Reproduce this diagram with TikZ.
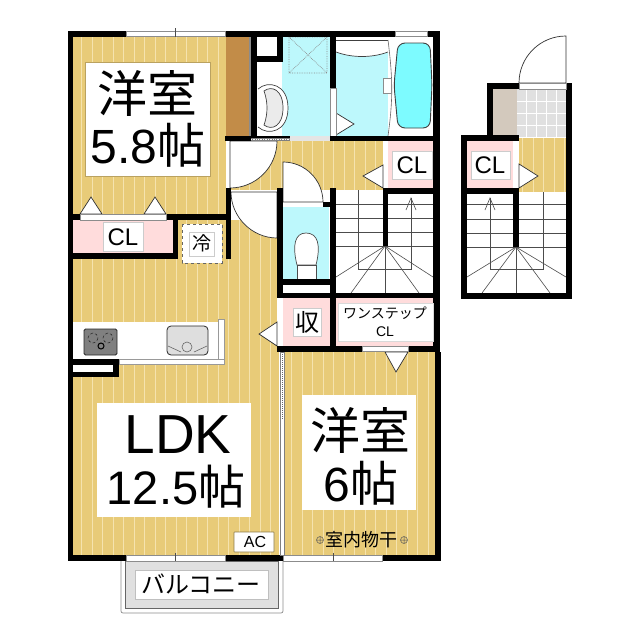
\documentclass[tikz,border=0pt]{standalone}
\usepackage{fontspec}
\setmainfont{Liberation Sans}
\newfontfamily\jpfont{Noto Sans CJK JP}
\definecolor{colorFloor}{HTML}{E8CB78}
\definecolor{colorStripe}{HTML}{F5E3AE}
\definecolor{colorPink}{HTML}{FFDCDC}
\definecolor{colorWet}{HTML}{BDF8FC}
\definecolor{colorTub}{HTML}{7DFBFF}
\definecolor{colorWood}{HTML}{C28C48}
\definecolor{colorBeige}{HTML}{D3C9BD}
\definecolor{colorTile}{HTML}{E0E0E0}
\usetikzlibrary{positioning}
\tikzset{
  wallfill/.style={fill=black},
  doorleaf/.style={fill=white, draw=black!80, line width=0.7pt},
  opening/.style={fill=white, draw=black!45, line width=0.5pt},
  labelbox/.style={fill=white, draw=black!20, line width=0.6pt},
  stepline/.style={draw=black!70, line width=0.6pt},
}
\newcommand{\fontpx}[1]{\fontsize{#1}{#1}\selectfont}
\newcommand{\floorarea}[4]{%
  \fill[colorFloor] (#1,#2) rectangle (#3,#4);
  \begin{scope}
    \clip (#1,#2) rectangle (#3,#4);
    \foreach \k in {0,...,50} \draw[colorStripe, line width=1pt] ({71+10.5*\k},#2) -- ({71+10.5*\k},#4);
  \end{scope}}
\newcommand{\wallbox}[4]{\fill[wallfill] (#1,#2) rectangle (#3,#4);}

\begin{document}
\begin{tikzpicture}[x=1pt, y=-1pt]
\useasboundingbox (0,0) rectangle (640,640);
\fill[white] (0,0) rectangle (640,640);

% balcony
\draw[black!45, line width=0.7pt, rounded corners=2pt] (121,561) -- (121,613) -- (283,613) -- (283,561);
\draw[black!60, fill=colorTile, line width=0.6pt] (125,561) rectangle (278,608);

% floors
\floorarea{73}{37}{226}{215}
\floorarea{73}{259}{279}{555}
\floorarea{178}{220}{279}{259}
\floorarea{231}{141}{383}{190}
\floorarea{285}{352}{435}{555}
\floorarea{519}{138}{566}{192}

% wet rooms and closets
\fill[colorWood] (226,37) rectangle (249,136);
\fill[black!45] (249,37) rectangle (251,136);
\fill[white] (257,37) rectangle (277,56);
\fill[white] (257,62) rectangle (282,136);
\fill[colorWet] (282,37) rectangle (330,136);
\draw[black!45, densely dotted, line width=0.7pt] (289,37) rectangle (327,73) (289,37) -- (327,73) (327,37) -- (289,73);
\fill[colorWet] (336,40) rectangle (388,136);
\fill[white] (388,37) rectangle (433,136);
\fill[colorPink] (73,220) rectangle (173,253);
\fill[colorPink] (388,141) rectangle (433,188);
\fill[white] (383,141) rectangle (388,188);
\fill[colorPink] (283,298) rectangle (330,346);
\fill[white] (277,298) rectangle (283,346);
\fill[colorPink] (336,298) rectangle (434,346);
\fill[colorWet] (283,207) rectangle (329,279);
\fill[white] (283,285) rectangle (329,293);
\fill[colorPink] (467,141) rectangle (513,188);
\fill[white] (513,141) rectangle (519,188);
\fill[colorBeige] (493,89) rectangle (517,135);
\fill[colorTile] (517,89) rectangle (566,137);
\foreach \k in {1,...,4} \draw[white, line width=0.8pt] ({517+9.8*\k},89) -- ({517+9.8*\k},137);
\foreach \k in {1,...,3} \draw[white, line width=0.8pt] (517,{89+12*\k}) -- (566,{89+12*\k});

% wash basin
\draw[black!75, fill=white, line width=0.7pt] (258,89) .. controls (268,80) and (288,84) .. (288,108) .. controls (288,132) and (268,136) .. (258,127);
\draw[black!75, fill=black!8, line width=0.7pt] (264,91) .. controls (272,85) and (283,90) .. (283,108) .. controls (283,126) and (272,131) .. (264,125) .. controls (268,114) and (268,102) .. (264,91) -- cycle;

% bath
\fill[white] (336,40) rectangle (388,53);
\draw[black!75, line width=0.6pt] (336,40) -- (388,40);
\draw[black!75, fill=white, line width=0.7pt] (336,52) .. controls (352,58) and (372,58) .. (388,52);
\draw[black!60, line width=0.6pt] (388,40) .. controls (393,80) and (393,100) .. (388,136);
\draw[black!75, fill=colorTub, line width=0.9pt, rounded corners=7pt] (398,43) -- (430,43) -- (432,85) -- (430,128) -- (398,128) -- (394,85) -- cycle;
\draw[opening] (383,78) rectangle (391,93);
\draw[doorleaf] (336,113) -- (354,124) -- (336,135) -- cycle;
\draw[opening] (330,88) rectangle (336,136);

% toilet
\draw[black!70, fill=white, line width=0.7pt] (297,265) .. controls (292,245) and (295,233) .. (306,233) .. controls (318,233) and (321,245) .. (316,265) -- cycle;
\draw[black!70, fill=white, line width=0.7pt] (297,265) rectangle (316,279);

% kitchen
\fill[white] (73,322) rectangle (218,359);
\draw[black!40, fill=white, line width=0.6pt] (218,319) rectangle (224,364);
\draw[black!40, fill=white, line width=0.6pt] (119,359) rectangle (224,364);
\draw[black!85, fill=black!50, rounded corners=1.5pt, line width=0.8pt] (84,329) rectangle (117,355);
\draw[black!85, densely dashed, line width=0.5pt] (93,338) circle (5) (108,338) circle (5);
\draw[black, line width=1pt] (101,346) circle (3);
\draw[black!85, fill=black!13, rounded corners=4pt, line width=0.8pt] (167,326) rectangle (208,355);
\draw[black!60, line width=0.6pt] (168,346) -- (181,352) (207,346) -- (194,352) (187,347) circle (5);

% doors
\fill[white] (226,141) rectangle (230,188);
\draw[doorleaf] (230,141) -- (277,141) .. controls (277,167) and (256,188) .. (230,188) -- cycle;
\draw[doorleaf] (231,192) .. controls (231,217) and (252,238) .. (277,238) -- (277,192) -- cycle;
\draw[doorleaf] (283,162) .. controls (305,162) and (323,180) .. (323,202) -- (283,202) -- cycle;
\draw[doorleaf] (80,214) -- (91,197) -- (102,214) -- cycle;
\draw[doorleaf] (144,214) -- (155,197) -- (166,214) -- cycle;
\draw[doorleaf] (383,165) -- (363,176) -- (383,188) -- cycle;
\draw[doorleaf] (277,322) -- (259,334) -- (277,346) -- cycle;
\draw[doorleaf] (385,352) -- (396,372) -- (408,352) -- cycle;
\draw[doorleaf] (519,164) -- (538,176) -- (519,188) -- cycle;
\draw[doorleaf] (566,36) .. controls (540,36) and (519,57) .. (519,83) -- (566,83) -- cycle;

% stairs
\foreach \y in {204,218,232,246} \draw[stepline] (336,\y) -- (433,\y);
\draw[stepline] (358,190) -- (358,269) -- (411,269) -- (411,198);
\draw[stepline] (406,210) -- (411,198) -- (416,210);
\foreach \px/\py in {336/277,351/293,385/293,419/293,433/277} \draw[stepline] (385,246) -- (\px,\py);
\foreach \y in {204,219,233,247} \draw[stepline] (467,\y) -- (566,\y);
\draw[stepline] (543,192) -- (543,269) -- (490,269) -- (490,198);
\draw[stepline] (485,210) -- (490,198) -- (495,210);
\foreach \px/\py in {467/277,482/293,516/293,550/293,566/277} \draw[stepline] (516,247) -- (\px,\py);

% walls
\wallbox{68}{31}{440}{37}
\wallbox{68}{31}{73}{561}
\wallbox{433}{31}{440}{352}
\wallbox{435}{352}{441}{561}
\wallbox{68}{555}{441}{561}
\wallbox{68}{214}{226}{220}
\wallbox{173}{214}{178}{259}
\wallbox{68}{253}{178}{259}
\wallbox{226}{188}{231}{259}
\wallbox{225}{136}{290}{141}
\wallbox{330}{136}{440}{141}
\wallbox{251}{37}{257}{136}
\wallbox{257}{56}{283}{62}
\wallbox{277}{37}{283}{62}
\wallbox{330}{37}{336}{88}
\wallbox{277}{188}{283}{298}
\wallbox{323}{202}{336}{207}
\wallbox{330}{188}{336}{298}
\wallbox{277}{279}{336}{285}
\wallbox{277}{293}{440}{298}
\wallbox{383}{188}{440}{194}
\wallbox{383}{188}{388}{246}
\wallbox{330}{298}{336}{346}
\wallbox{277}{346}{440}{352}
\wallbox{73}{359}{119}{377}
\fill[white] (73,365) rectangle (113,372);
\wallbox{487}{83}{519}{89}
\wallbox{487}{83}{493}{135}
\wallbox{566}{83}{572}{299}
\wallbox{461}{135}{519}{141}
\wallbox{461}{135}{467}{299}
\wallbox{461}{188}{519}{194}
\wallbox{513}{188}{519}{247}
\wallbox{461}{293}{572}{299}
\fill[black!50] (251,138) rectangle (290,141);
\draw[white, densely dotted, line width=0.7pt] (251,139.5) -- (290,139.5);
\fill[black!10] (290,136) rectangle (330,141);

% windows and openings
\draw[opening] (126,31) rectangle (225,36);
\draw[black!70, line width=0.5pt] (175,28) -- (175,37);
\draw[opening] (395,31) rectangle (427,36);
\draw[opening] (80,214) rectangle (166,220);
\draw[opening] (126,555) rectangle (225,561);
\draw[black!70, line width=0.5pt] (175,553) -- (175,561);
\draw[opening] (283,555) rectangle (382,561);
\draw[black!70, line width=0.5pt] (333,553) -- (333,561);
\draw[opening] (362,346) rectangle (408,351);
\draw[opening] (519,83) rectangle (566,89);
\draw[black!50, fill=white, line width=0.5pt] (280,352) rectangle (284,555);
\draw[black!60, densely dotted, line width=1pt] (282,352) -- (282,420);
\draw[dashed, black!60, fill=white, line width=0.7pt] (182,224) rectangle (222,263);

% label boxes
\fill[white, draw=colorFloor!80!black, line width=0.4pt] (85,62) rectangle (210,176);
\fill[white] (97,403) rectangle (251,517);
\fill[white] (302,395) rectangle (416,510);
\draw[labelbox] (103,222) rectangle (143,251);
\draw[labelbox] (189,232) rectangle (214,256);
\draw[labelbox] (392,151) rectangle (432,179);
\draw[labelbox] (471,151) rectangle (510,179);
\draw[labelbox] (293,308) rectangle (321,336);
\draw[fill=white, draw=black!15, line width=0.5pt] (338,303) rectangle (433,341);
\draw[fill=white, draw=colorFloor!60!black, line width=0.6pt, rounded corners=0.5pt] (234,532) rectangle (274,552);
\draw[fill=white, draw=black!25, line width=0.6pt] (135,570) rectangle (268,599);

% labels
\node (room1a) at (147,93) {\fontpx{50}\jpfont 洋室};
\node (room1b) at (148,145) {\fontpx{48}5.8{\jpfont 帖}};
\node (ldka) at (178,435) {\fontpx{55}LDK};
\node (ldkb) at (176,487) {\fontpx{47}12.5{\jpfont 帖}};
\node (room2a) at (360,430) {\fontpx{50}\jpfont 洋室};
\node (room2b) at (361,483) {\fontpx{48}6{\jpfont 帖}};
\node (clA) at (123,237) {\fontpx{24}CL};
\node (clB) at (412,165) {\fontpx{24}CL};
\node (clC) at (490,165) {\fontpx{24}CL};
\node (fridge) at (202,243) {\fontpx{19}\jpfont 冷};
\node (storage) at (307,322) {\fontpx{24}\jpfont 収};
\node[align=center, inner sep=0pt, font=\fontsize{14}{18}\selectfont] (onestep) at (385,322) {{\jpfont ワンステップ}\\CL};
\node (aircon) at (255,542) {\fontpx{16}AC};
\node (balcony) at (201,584) {\fontpx{24}\jpfont バルコニー};
\node (drying) at (361,540) {\fontpx{18}\jpfont 室内物干};
\foreach \cx in {320,404} \draw[black!65, line width=0.5pt] (\cx,540) circle (3.5) (\cx-3.5,540) -- (\cx+3.5,540) (\cx,536.5) -- (\cx,543.5);
\end{tikzpicture}
\end{document}
